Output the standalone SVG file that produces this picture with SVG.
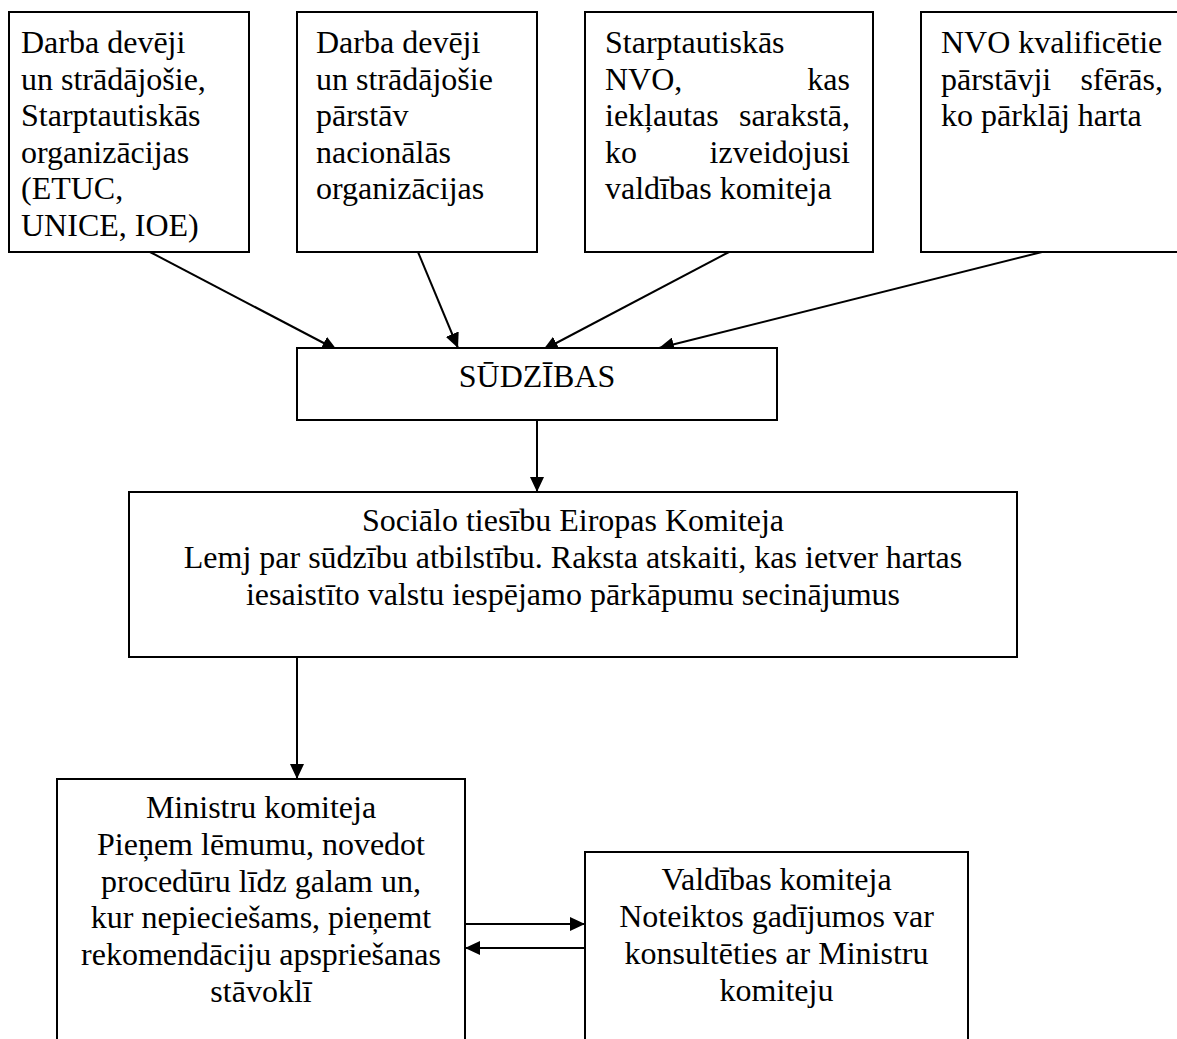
<svg xmlns="http://www.w3.org/2000/svg" width="1177" height="1039" viewBox="0 0 1177 1039">
<style>
.box{fill:#fff;stroke:#000;stroke-width:2}
.t{font-family:"Liberation Serif","Times New Roman",serif;font-size:32px;fill:#000}
.c{text-anchor:middle}
.e{text-anchor:end}
.conn{stroke:#000;stroke-width:2;fill:none;marker-end:url(#ah)}
</style>
<defs>
<marker id="ah" markerWidth="15" markerHeight="14" refX="15" refY="7" orient="auto" markerUnits="userSpaceOnUse"><path d="M0,0 L15,7 L0,14 z" fill="#000"/></marker>
</defs>
<rect width="1177" height="1039" fill="#fff"/>
<g id="connectors">
<line class="conn" x1="150" y1="252" x2="337" y2="350"/>
<line class="conn" x1="418" y1="252" x2="458" y2="348"/>
<line class="conn" x1="729" y1="252" x2="543" y2="350"/>
<line class="conn" x1="1042" y1="252" x2="659" y2="348"/>
<line class="conn" x1="537" y1="420" x2="537" y2="492"/>
<line class="conn" x1="297" y1="657" x2="297" y2="779"/>
<line class="conn" x1="465" y1="924" x2="585" y2="924"/>
<line class="conn" x1="585" y1="948" x2="465" y2="948"/>
</g>
<g id="n1">
<rect class="box" x="9" y="12" width="240" height="240"/>
<text class="t" x="21" y="53">Darba devēji</text>
<text class="t" x="21" y="89.6">un strādājošie,</text>
<text class="t" x="21" y="126.2">Starptautiskās</text>
<text class="t" x="21" y="162.8">organizācijas</text>
<text class="t" x="21" y="199.4">(ETUC,</text>
<text class="t" x="21" y="236">UNICE, IOE)</text>
</g>
<g id="n2">
<rect class="box" x="297" y="12" width="240" height="240"/>
<text class="t" x="316" y="53">Darba devēji</text>
<text class="t" x="316" y="89.6">un strādājošie</text>
<text class="t" x="316" y="126.2">pārstāv</text>
<text class="t" x="316" y="162.8">nacionālās</text>
<text class="t" x="316" y="199.4">organizācijas</text>
</g>
<g id="n3">
<rect class="box" x="585" y="12" width="288" height="240"/>
<text class="t" x="605" y="53">Starptautiskās</text>
<text class="t" x="605" y="89.6">NVO,</text>
<text class="t e" x="850" y="89.6">kas</text>
<text class="t" x="605" y="126.2">iekļautas</text>
<text class="t e" x="850" y="126.2">sarakstā,</text>
<text class="t" x="605" y="162.8">ko</text>
<text class="t e" x="850" y="162.8">izveidojusi</text>
<text class="t" x="605" y="199.4">valdības komiteja</text>
</g>
<g id="n4">
<rect class="box" x="921" y="12" width="270" height="240"/>
<text class="t" x="941" y="53">NVO kvalificētie</text>
<text class="t" x="941" y="89.6">pārstāvji</text>
<text class="t e" x="1163" y="89.6">sfērās,</text>
<text class="t" x="941" y="126.2">ko pārklāj harta</text>
</g>
<g id="n5">
<rect class="box" x="297" y="348" width="480" height="72"/>
<text class="t c" x="537" y="387">SŪDZĪBAS</text>
</g>
<g id="n6">
<rect class="box" x="129" y="492" width="888" height="165"/>
<text class="t c" x="573" y="531">Sociālo tiesību Eiropas Komiteja</text>
<text class="t c" x="573" y="568">Lemj par sūdzību atbilstību. Raksta atskaiti, kas ietver hartas</text>
<text class="t c" x="573" y="605">iesaistīto valstu iespējamo pārkāpumu secinājumus</text>
</g>
<g id="n7">
<rect class="box" x="57" y="779" width="408" height="280"/>
<text class="t c" x="261" y="818">Ministru komiteja</text>
<text class="t c" x="261" y="855">Pieņem lēmumu, novedot</text>
<text class="t c" x="261" y="892">procedūru līdz galam un,</text>
<text class="t c" x="261" y="928">kur nepieciešams, pieņemt</text>
<text class="t c" x="261" y="965">rekomendāciju apspriešanas</text>
<text class="t c" x="261" y="1002">stāvoklī</text>
</g>
<g id="n8">
<rect class="box" x="585" y="852" width="383" height="207"/>
<text class="t c" x="776.5" y="890">Valdības komiteja</text>
<text class="t c" x="776.5" y="927">Noteiktos gadījumos var</text>
<text class="t c" x="776.5" y="964">konsultēties ar Ministru</text>
<text class="t c" x="776.5" y="1001">komiteju</text>
</g>
</svg>
